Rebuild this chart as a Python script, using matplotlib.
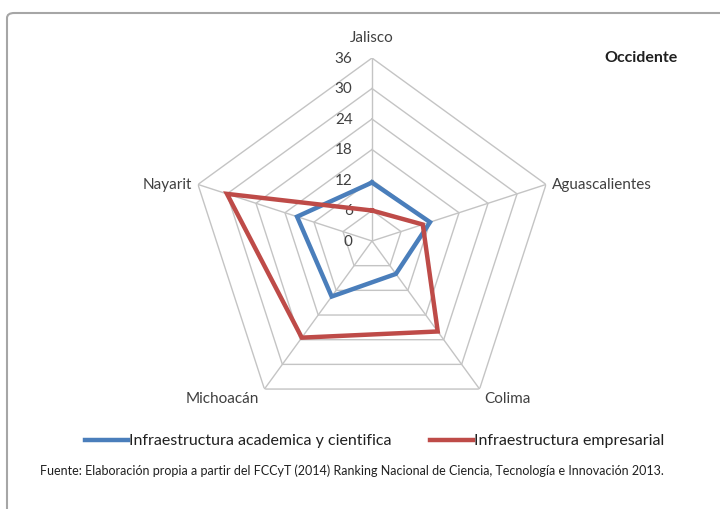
import numpy as np
import matplotlib
matplotlib.use("Agg")
import matplotlib.pyplot as plt
from matplotlib.patches import FancyBboxPatch

categories = ["Jalisco", "Aguascalientes", "Colima", "Michoacán", "Nayarit"]
academica = [11.5, 12, 8, 13.5, 15.5]
empresarial = [6, 10.5, 22, 23.5, 30]
ticks = [0, 6, 12, 18, 24, 30, 36]
series_names = ["Infraestructura academica y cientifica", "Infraestructura empresarial"]
title = "Occidente"
source = "Fuente: Elaboración propia a partir del FCCyT (2014) Ranking Nacional de Ciencia, Tecnología e Innovación 2013."

plt.rcParams['font.family'] = ['Lato', 'DejaVu Sans']

W, H = 720, 510
fig = plt.figure(figsize=(7.2, 5.1), dpi=100)
fig.patch.set_facecolor("white")

# chart frame
frame = FancyBboxPatch((7 / W, -0.05), 1.2, (H - 14) / H + 0.05, boxstyle="round,pad=0,rounding_size=0.01",
                       transform=fig.transFigure, facecolor="none", edgecolor="#A6A6A6",
                       linewidth=1.5, zorder=-10)
fig.add_artist(frame)

cx, cy, R = 372, 242, 183
ax = fig.add_axes([(cx - R) / W, 1 - (cy + R) / H, 2 * R / W, 2 * R / H], projection="polar")
ax.set_theta_offset(np.pi / 2)
ax.set_theta_direction(-1)
ax.set_ylim(0, 36)
ax.axis("off")
ax.patch.set_alpha(0)

n = len(categories)
angles = np.linspace(0, 2 * np.pi, n, endpoint=False)
closed = np.concatenate([angles, angles[:1]])

grid_c = "#C4C4C4"
for t in ticks[1:]:
    ax.plot(closed, [t] * (n + 1), color=grid_c, lw=1.0, zorder=1)
for a in angles:
    ax.plot([a, a], [0, 36], color=grid_c, lw=1.0, zorder=1)

for t in ticks:
    ax.annotate(str(t), xy=(0, t), xytext=(-14, 0), textcoords="offset points",
                ha="right", va="center", fontsize=11, color="#404040")

blue = "#4A7EBB"
red = "#BE4B48"
ax.plot(closed, academica + academica[:1], color=blue, lw=3.2, zorder=3, solid_joinstyle="miter")
ax.plot(closed, empresarial + empresarial[:1], color=red, lw=3.2, zorder=4, solid_joinstyle="miter")

# category labels
lab_kw = dict(fontsize=11, color="#404040")
ax.annotate(categories[0], xy=(0, 36), xytext=(0, 15), textcoords="offset points", ha="center", va="center", **lab_kw)
ax.annotate(categories[1], xy=(angles[1], 36), xytext=(4, 0), textcoords="offset points", ha="left", va="center", **lab_kw)
ax.annotate(categories[2], xy=(angles[2], 36), xytext=(3.6, -6.5), textcoords="offset points", ha="left", va="center", **lab_kw)
ax.annotate(categories[3], xy=(angles[3], 36), xytext=(-3.6, -6.5), textcoords="offset points", ha="right", va="center", **lab_kw)
ax.annotate(categories[4], xy=(angles[4], 36), xytext=(-4, 0), textcoords="offset points", ha="right", va="center", **lab_kw)

fig.text(641 / W, 1 - 58 / H, title, ha="center", va="center", fontsize=11.5, fontweight="bold", color="#202020")

# legend
ly = 1 - 441 / H
for x0, col, name in [(85, blue, series_names[0]), (430, red, series_names[1])]:
    fig.add_artist(plt.Line2D([x0 / W, (x0 + 43) / W], [ly, ly], color=col, lw=3.2, transform=fig.transFigure))
    fig.text((x0 + 44) / W, ly, name, ha="left", va="center", fontsize=11.5, color="#202020")

fig.text(40 / W, 1 - 471 / H, source, ha="left", va="center", fontsize=9, color="#202020")

fig.savefig("out.png", dpi=100, facecolor="white")
